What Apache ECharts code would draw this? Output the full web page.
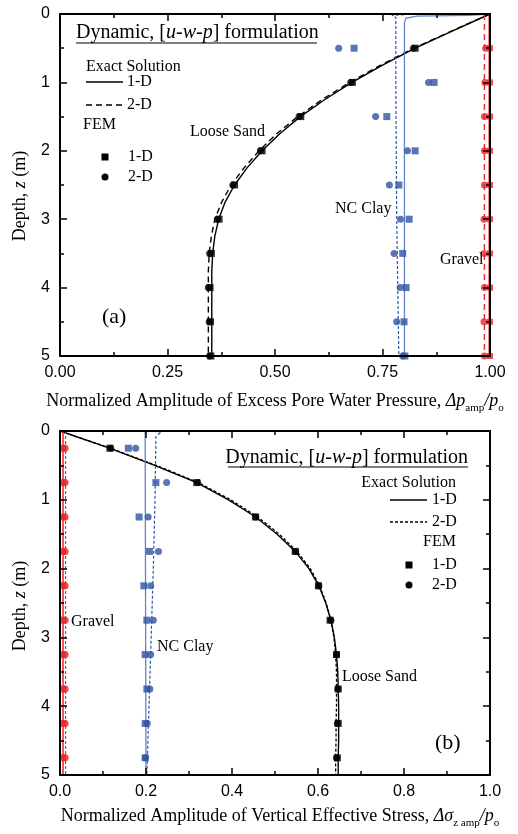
<!DOCTYPE html>
<html><head><meta charset="utf-8">
<script src="https://cdn.jsdelivr.net/npm/echarts@6/dist/echarts.min.js"></script>
<style>html,body{margin:0;padding:0;background:#fff}#c{width:518px;height:834px}</style>
</head><body><div id="c"></div><script>
// ---------- data ----------
const depthExact = [0, 0.25, 0.5, 0.75, 1, 1.25, 1.5, 1.75, 2, 2.25, 2.5, 2.75, 3, 3.25, 3.5, 3.75, 4, 4.25, 4.5, 4.75, 5];
// Panel (a): excess pore water pressure
const sandA_exact1D = [1.0, 0.912, 0.826, 0.749, 0.679, 0.616, 0.559, 0.511, 0.470, 0.435, 0.406, 0.384, 0.369, 0.360, 0.355, 0.353, 0.353, 0.353, 0.353, 0.353, 0.353];
const sandA_exact2D = [1.0, 0.910, 0.823, 0.745, 0.674, 0.610, 0.553, 0.504, 0.463, 0.428, 0.398, 0.376, 0.360, 0.352, 0.347, 0.345, 0.345, 0.345, 0.345, 0.345, 0.345];
const depthFemA = [0.5, 1, 1.5, 2, 2.5, 3, 3.5, 4, 4.5, 5];
const sandA_fem1D = [0.826, 0.680, 0.560, 0.470, 0.406, 0.370, 0.352, 0.349, 0.350, 0.351];
const sandA_fem2D = [0.822, 0.676, 0.556, 0.466, 0.402, 0.366, 0.348, 0.345, 0.347, 0.348];
const clayA_depth1D = [0, 0.02, 0.03, 0.06, 0.12, 5];
const clayA_exact1D = [1.0, 0.95, 0.83, 0.805, 0.801, 0.801];
const clayA_depth2D = [0.01, 0.02, 0.05, 1, 3, 5];
const clayA_exact2D = [0.80, 0.772, 0.781, 0.781, 0.783, 0.788];
const clayA_fem1D = [0.684, 0.870, 0.760, 0.826, 0.788, 0.812, 0.797, 0.805, 0.800, 0.802];
const clayA_fem2D = [0.648, 0.857, 0.734, 0.808, 0.766, 0.792, 0.777, 0.791, 0.783, 0.797];
const gravA_depth = [0, 5];
const gravA_exact1D = [0.998, 0.998];
const gravA_exact2D = [0.987, 0.987];
const gravA_fem1D = [1.0, 1.0, 1.0, 1.0, 1.0, 1.0, 1.0, 1.0, 1.0, 1.0];
const gravA_fem2D = [0.990, 0.988, 0.987, 0.987, 0.987, 0.986, 0.986, 0.987, 0.986, 0.987];
// Panel (b): vertical effective stress
const sandB_exact1D = [0, 0.115, 0.220, 0.318, 0.392, 0.455, 0.505, 0.547, 0.579, 0.602, 0.618, 0.630, 0.638, 0.643, 0.646, 0.647, 0.648, 0.648, 0.648, 0.647, 0.647];
const sandB_exact2D = [0, 0.117, 0.224, 0.322, 0.397, 0.460, 0.510, 0.551, 0.582, 0.604, 0.619, 0.630, 0.637, 0.641, 0.643, 0.643, 0.643, 0.642, 0.642, 0.641, 0.641];
const depthFemB = [0.25, 0.75, 1.25, 1.75, 2.25, 2.75, 3.25, 3.75, 4.25, 4.75];
const sandB_fem1D = [0.116, 0.318, 0.455, 0.547, 0.601, 0.628, 0.643, 0.647, 0.647, 0.645];
const sandB_fem2D = [0.118, 0.320, 0.455, 0.548, 0.602, 0.630, 0.643, 0.646, 0.645, 0.643];
const clayB_depth1D = [0.003, 0.003, 0.03, 5];
const clayB_exact1D = [0, 0.198, 0.2, 0.2];
const clayB_depth2D = [0.003, 0.012, 0.08, 1, 2, 3, 4, 5];
const clayB_exact2D = [0.205, 0.236, 0.223, 0.221, 0.217, 0.212, 0.207, 0.202];
const clayB_fem1D = [0.159, 0.223, 0.184, 0.208, 0.195, 0.202, 0.198, 0.202, 0.198, 0.198];
const clayB_fem2D = [0.176, 0.248, 0.205, 0.229, 0.211, 0.217, 0.211, 0.209, 0.203, 0.199];
const gravB_depth = [0, 5];
const gravB_exact1D = [0.007, 0.007];
const gravB_exact2D = [0.013, 0.013];
const gravB_fem1D = [0.006, 0.006, 0.006, 0.006, 0.006, 0.006, 0.006, 0.006, 0.006, 0.006];
const gravB_fem2D = [0.012, 0.012, 0.012, 0.012, 0.012, 0.012, 0.012, 0.012, 0.012, 0.012];

const xTicksA = {min: 0, max: 1, interval: 0.25};
const xTicksB = {min: 0, max: 1, interval: 0.2};
const yTicks = {min: 0, max: 5, interval: 1};

// ---------- styles ----------
const BLACK = '#000', BLUE = '#2E54A3', BLUE_L = '#6283C8', RED = '#E8262B';
const SERIF = '"Liberation Serif","Times New Roman",serif';
const SANS = '"Liberation Sans",Arial,sans-serif';

function zip(xs, ys) { return xs.map((x, i) => [x, ys[i]]); }

function xAxis(grid, t, pos, labels) {
  return {type: 'value', gridIndex: grid, position: pos, min: t.min, max: t.max, interval: t.interval, z: 8,
    axisLine: {show: true, onZero: false, lineStyle: {color: BLACK, width: 2}},
    axisTick: {show: true, inside: true, length: 7, lineStyle: {color: BLACK, width: 1.5}},
    minorTick: {show: true, splitNumber: 2, length: 4, lineStyle: {color: BLACK, width: 1.5}},
    splitLine: {show: false}, minorSplitLine: {show: false},
    axisLabel: {show: labels, fontSize: 16, fontFamily: SANS, color: BLACK, margin: 9,
      formatter: v => t.interval === 0.25 ? v.toFixed(2) : v.toFixed(1)}};
}
function yAxis(grid, pos, labels) {
  return {type: 'value', gridIndex: grid, position: pos, inverse: true, min: yTicks.min, max: yTicks.max, interval: yTicks.interval, z: 8,
    axisLine: {show: true, onZero: false, lineStyle: {color: BLACK, width: 2}},
    axisTick: {show: true, inside: true, length: 7, lineStyle: {color: BLACK, width: 1.5}},
    minorTick: {show: true, splitNumber: 2, length: 4, lineStyle: {color: BLACK, width: 1.5}},
    splitLine: {show: false}, minorSplitLine: {show: false},
    axisLabel: {show: labels, fontSize: 16, fontFamily: SANS, color: BLACK, margin: 10}};
}
function line(xi, yi, data, color, dash, width) {
  return {type: 'line', xAxisIndex: xi, yAxisIndex: yi, data: data, showSymbol: false, symbol: 'none',
    lineStyle: {color: color, width: width || 1.3, type: dash || 'solid'}, silent: true, animation: false, z: 3};
}
function pts(xi, yi, data, color, sym, size) {
  return {type: 'scatter', xAxisIndex: xi, yAxisIndex: yi, data: data, symbol: sym, symbolSize: size,
    itemStyle: {color: color}, silent: true, animation: false, z: 4};
}

const series = [
  // panel a
  line(0, 0, zip(sandA_exact1D, depthExact), BLACK, 'solid', 1.4),
  line(0, 0, zip(sandA_exact2D, depthExact), BLACK, [6, 4], 1.4),
  pts(0, 0, zip(sandA_fem1D, depthFemA), BLACK, 'rect', 7),
  pts(0, 0, zip(sandA_fem2D, depthFemA), BLACK, 'circle', 7),
  line(0, 0, zip(clayA_exact1D, clayA_depth1D), BLUE_L, 'solid', 1.3),
  line(0, 0, zip(clayA_exact2D, clayA_depth2D), BLUE, [3, 2], 1.2),
  pts(0, 0, zip(clayA_fem1D, depthFemA), BLUE, 'rect', 7),
  pts(0, 0, zip(clayA_fem2D, depthFemA), BLUE, 'circle', 7),
  line(0, 0, zip(gravA_exact1D, gravA_depth), RED, 'solid', 1.3),
  line(0, 0, zip(gravA_exact2D, gravA_depth), RED, [6, 4], 1.4),
  pts(0, 0, zip(gravA_fem1D, depthFemA), RED, 'rect', 6),
  pts(0, 0, zip(gravA_fem2D, depthFemA), RED, 'circle', 7),
  // panel b
  line(2, 2, zip(sandB_exact1D, depthExact), BLACK, 'solid', 1.4),
  line(2, 2, zip(sandB_exact2D, depthExact), BLACK, [3, 2], 1.3),
  pts(2, 2, zip(sandB_fem1D, depthFemB), BLACK, 'rect', 7),
  pts(2, 2, zip(sandB_fem2D, depthFemB), BLACK, 'circle', 7),
  line(2, 2, zip(clayB_exact1D, clayB_depth1D), BLUE_L, 'solid', 1.3),
  line(2, 2, zip(clayB_exact2D, clayB_depth2D), BLUE, [3, 2], 1.2),
  pts(2, 2, zip(clayB_fem1D, depthFemB), BLUE, 'rect', 7),
  pts(2, 2, zip(clayB_fem2D, depthFemB), BLUE, 'circle', 7),
  line(2, 2, zip(gravB_exact1D, gravB_depth), RED, 'solid', 1.5),
  line(2, 2, zip(gravB_exact2D, gravB_depth), RED, [3, 2], 1.2),
  pts(2, 2, zip(gravB_fem1D, depthFemB), RED, 'rect', 7),
  pts(2, 2, zip(gravB_fem2D, depthFemB), RED, 'circle', 7),
];

function txt(x, y, text, opts) {
  opts = opts || {};
  return {type: 'text', x: x, y: y, rotation: opts.rot || 0, z: 10, silent: true,
    style: Object.assign({text: text, fill: BLACK, font: (opts.size || 16) + 'px ' + SERIF,
      textAlign: opts.align || 'left', textVerticalAlign: 'middle', align: opts.align || 'left', verticalAlign: 'middle'}, opts.style || {})};
}
function richTxt(x, y, text, rich, opts) {
  opts = opts || {};
  return {type: 'text', x: x, y: y, rotation: opts.rot || 0, z: 10, silent: true,
    style: {text: text, rich: rich, fill: BLACK, fontFamily: SERIF, fontSize: 18,
      align: opts.align || 'left', verticalAlign: 'middle'}};
}
function hline(x1, x2, y, dash, color, w) {
  return {type: 'line', z: 10, silent: true, shape: {x1: x1, y1: y, x2: x2, y2: y},
    style: {stroke: color || BLACK, lineWidth: w || 1.3, lineDash: dash || null}};
}
function sq(cx, cy, s) { return {type: 'rect', z: 10, silent: true, shape: {x: cx - s / 2, y: cy - s / 2, width: s, height: s}, style: {fill: BLACK}}; }
function dot(cx, cy, r) { return {type: 'circle', z: 10, silent: true, shape: {cx: cx, cy: cy, r: r}, style: {fill: BLACK}}; }

const titleRich = {
  n: {fontFamily: SERIF, fontSize: 20, color: BLACK},
  i: {fontFamily: SERIF, fontSize: 20, fontStyle: 'italic', color: BLACK}
};
const titleText = '{n|Dynamic, [}{i|u}{n|-}{i|w}{n|-}{i|p}{n|] formulation}';
const axRich = {
  n: {fontFamily: SERIF, fontSize: 18, color: BLACK, lineHeight: 26, verticalAlign: 'middle'},
  i: {fontFamily: SERIF, fontSize: 18, fontStyle: 'italic', color: BLACK, lineHeight: 26, verticalAlign: 'middle'},
  s: {fontFamily: SERIF, fontSize: 11, color: BLACK, lineHeight: 11, verticalAlign: 'bottom'}
};

const graphics = [
  // panel a
  richTxt(76, 33, titleText, titleRich),
  hline(76, 317, 43, null, BLACK, 1.2),
  txt(86, 67, 'Exact Solution'),
  hline(86, 123, 82), txt(127, 82, '1-D'),
  hline(86, 123, 105, [6, 4]), txt(127, 105, '2-D'),
  txt(83, 125, 'FEM'),
  sq(105, 157, 7), txt(128, 157, '1-D'),
  dot(105, 177, 3.5), txt(128, 177, '2-D'),
  txt(190, 132, 'Loose Sand'),
  txt(335, 209, 'NC Clay'),
  txt(440, 260, 'Gravel'),
  txt(102, 317, '(a)', {size: 22}),
  richTxt(20, 196, '{n|Depth, }{i|z}{n| (m)}', axRich, {rot: Math.PI / 2, align: 'center'}),
  richTxt(275, 401, '{n|Normalized Amplitude of Excess Pore Water Pressure, }{i|Δp}{s|amp}{i|/p}{s|o}', axRich, {align: 'center'}),
  // panel b
  richTxt(468, 458, titleText, titleRich, {align: 'right'}),
  hline(228, 468, 467, null, BLACK, 1.2),
  txt(456, 483, 'Exact Solution', {align: 'right'}),
  hline(390, 427, 500), txt(432, 500, '1-D'),
  hline(390, 427, 522, [3, 2]), txt(432, 522, '2-D'),
  txt(456, 542, 'FEM', {align: 'right'}),
  sq(409, 565, 7), txt(432, 565, '1-D'),
  dot(409, 585, 3.5), txt(432, 585, '2-D'),
  txt(71, 622, 'Gravel'),
  txt(157, 647, 'NC Clay'),
  txt(342, 677, 'Loose Sand'),
  txt(435, 743, '(b)', {size: 22}),
  richTxt(20, 606, '{n|Depth, }{i|z}{n| (m)}', axRich, {rot: Math.PI / 2, align: 'center'}),
  richTxt(280, 816, '{n|Normalized Amplitude of Vertical Effective Stress, }{i|Δσ}{s|z amp}{i|/p}{s|o}', axRich, {align: 'center'}),
];

const chart = echarts.init(document.getElementById('c'), null, {renderer: 'canvas'});
chart.setOption({
  animation: false,
  backgroundColor: '#fff',
  grid: [
    {left: 60, top: 14, width: 430, height: 342, containLabel: false},
    {left: 60, top: 431, width: 430, height: 344, containLabel: false}
  ],
  xAxis: [xAxis(0, xTicksA, 'bottom', true), xAxis(0, xTicksA, 'top', false),
          xAxis(1, xTicksB, 'bottom', true), xAxis(1, xTicksB, 'top', false)],
  yAxis: [yAxis(0, 'left', true), yAxis(0, 'right', false),
          yAxis(1, 'left', true), yAxis(1, 'right', false)],
  series: series,
  graphic: graphics
});
</script></body></html>
